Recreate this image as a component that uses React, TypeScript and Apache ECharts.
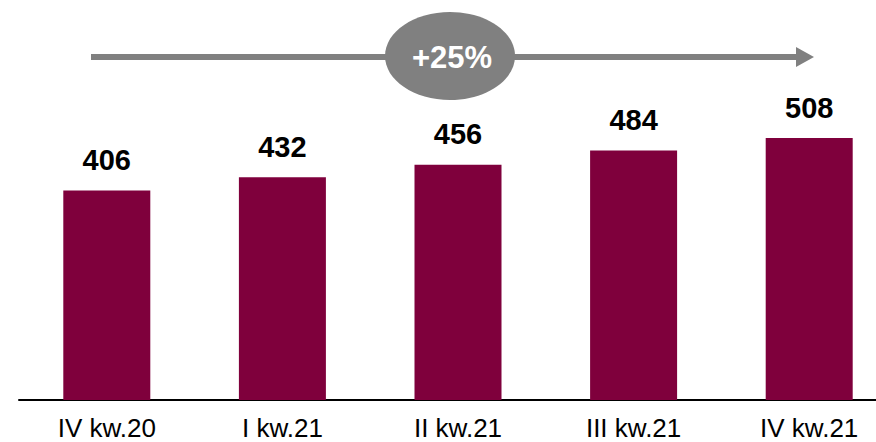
import React, { useEffect, useRef } from "react";
import * as echarts from "echarts";

const categories = ["IV kw.20", "I kw.21", "II kw.21", "III kw.21", "IV kw.21"];
const values = [406, 432, 456, 484, 508];
const growthLabel = "+25%";

export default function App() {
  const ref = useRef<HTMLDivElement>(null);
  useEffect(() => {
    if (!ref.current) return;
    const chart = echarts.init(ref.current, null, { renderer: "svg" });
    chart.setOption({
      animation: false,
      backgroundColor: "#ffffff",
      grid: { left: 19, right: 0, top: 39, bottom: 42, containLabel: false },
      xAxis: {
        type: "category",
        data: categories,
        axisLine: { show: true, lineStyle: { color: "#000000", width: 2 } },
        axisTick: { show: false },
        axisLabel: {
          color: "#000000",
          fontSize: 26,
          fontFamily: "Liberation Sans, Arial, sans-serif",
          margin: 15,
        },
      },
      yAxis: {
        type: "value",
        min: 0,
        max: 700,
        show: false,
        splitLine: { show: false },
      },
      series: [
        {
          type: "bar",
          data: values,
          barWidth: 87,
          itemStyle: { color: "#7F003C" },
          label: {
            show: true,
            position: "top",
            distance: 16,
            color: "#000000",
            fontSize: 29,
            fontWeight: "bold",
            fontFamily: "Liberation Sans, Arial, sans-serif",
          },
        },
      ],
      graphic: [
        {
          type: "line",
          shape: { x1: 91, y1: 57, x2: 797, y2: 57 },
          style: { stroke: "#808080", lineWidth: 6 },
        },
        {
          type: "polygon",
          shape: { points: [[796, 47], [796, 67], [814, 57]] },
          style: { fill: "#808080" },
        },
        {
          type: "ellipse",
          shape: { cx: 450, cy: 56, rx: 65, ry: 44 },
          style: { fill: "#808080" },
        },
        {
          type: "text",
          x: 452,
          y: 57,
          style: {
            text: growthLabel,
            fill: "#ffffff",
            fontSize: 31,
            fontWeight: "bold",
            fontFamily: "Liberation Sans, Arial, sans-serif",
            align: "center",
            verticalAlign: "middle",
          },
        },
      ],
    });
    return () => chart.dispose();
  }, []);
  return (
    <div
      style={{
        position: "fixed",
        left: 0,
        top: 0,
        width: 876,
        height: 442,
        overflow: "hidden",
        background: "#ffffff",
      }}
    >
      <div ref={ref} style={{ width: 897, height: 442 }} />
    </div>
  );
}
